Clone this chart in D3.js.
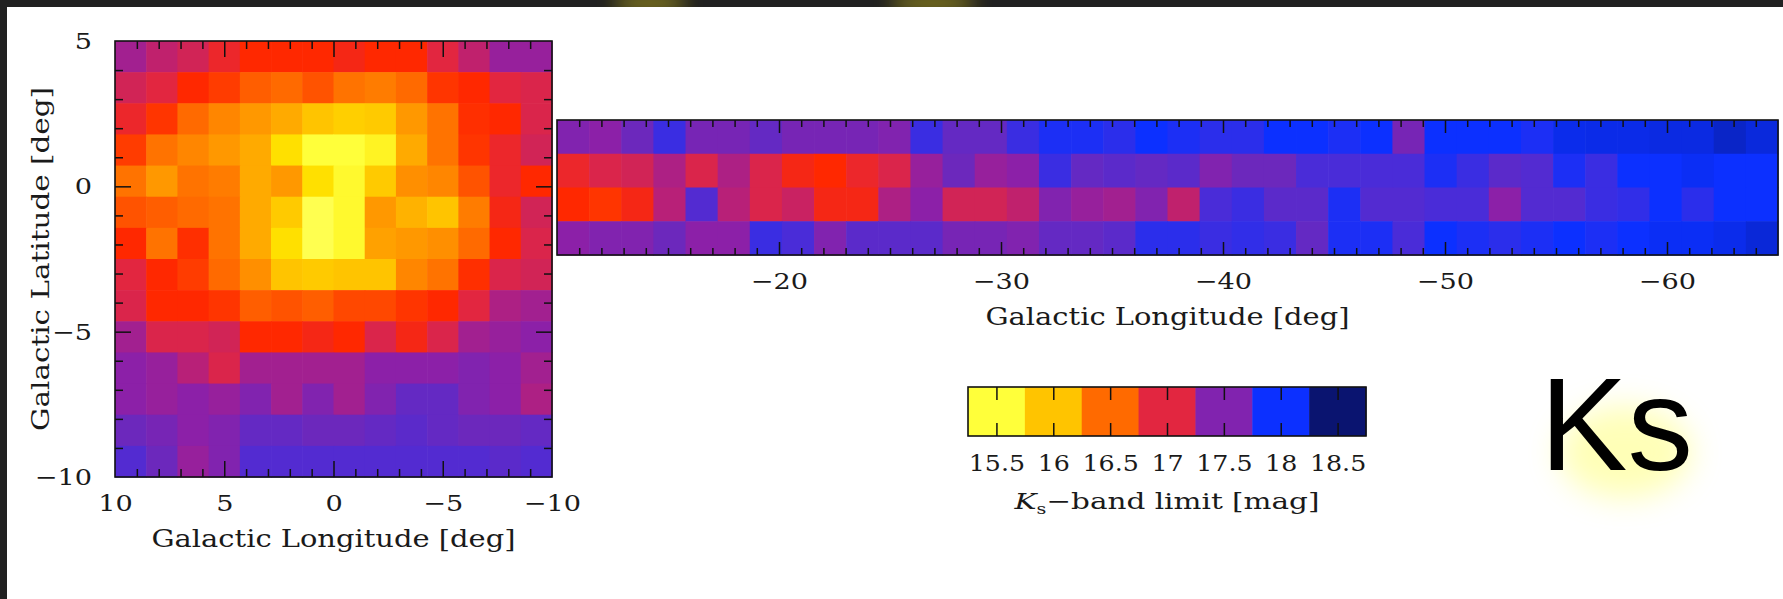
<!DOCTYPE html>
<html>
<head>
<meta charset="utf-8">
<script src="https://cdn.jsdelivr.net/npm/d3@7"></script>
<style>
  html, body { margin: 0; padding: 0; background: #ffffff; overflow: hidden; }
  svg { display: block; }
  .lbl { font-family: "DejaVu Serif", serif; fill: #1a1a1a; }
</style>
</head>
<body>
<svg id="chart" width="1783" height="599"></svg>
<script>
// Ks-band limiting magnitude per tile, bulge field.
// Rows run from b = +5 (top) to b = -10 (bottom); columns from l = +10 to l = -10.
const bulgeKs = [
  [17.35, 17.2, 17.1, 16.95, 16.85, 16.85, 16.85, 16.9, 16.85, 16.85, 17.0, 17.2, 17.4, 17.4],
  [17.1, 17.0, 16.85, 16.7, 16.55, 16.5, 16.6, 16.45, 16.4, 16.5, 16.75, 16.85, 17.0, 17.05],
  [16.95, 16.75, 16.5, 16.35, 16.25, 16.15, 16.0, 15.9, 15.95, 16.25, 16.45, 16.8, 16.85, 17.05],
  [16.7, 16.45, 16.35, 16.25, 16.15, 15.75, 15.5, 15.5, 15.6, 16.15, 16.45, 16.75, 16.95, 17.1],
  [16.45, 16.25, 16.45, 16.4, 16.15, 16.25, 15.75, 15.55, 15.95, 16.3, 16.35, 16.6, 16.95, 16.85],
  [16.6, 16.55, 16.5, 16.45, 16.15, 15.95, 15.45, 15.55, 16.25, 16.1, 16.0, 16.4, 16.9, 17.1],
  [16.85, 16.45, 16.8, 16.45, 16.15, 15.75, 15.45, 15.55, 16.2, 16.25, 16.3, 16.5, 16.85, 17.05],
  [17.0, 16.85, 16.7, 16.5, 16.3, 16.0, 15.95, 16.0, 16.0, 16.35, 16.45, 16.8, 17.05, 17.1],
  [17.05, 16.85, 16.85, 16.75, 16.55, 16.6, 16.55, 16.65, 16.65, 16.75, 16.85, 17.0, 17.3, 17.35],
  [17.35, 17.05, 17.05, 17.1, 16.85, 16.85, 16.9, 16.85, 17.05, 16.9, 17.05, 17.35, 17.4, 17.45],
  [17.45, 17.4, 17.25, 17.05, 17.35, 17.35, 17.35, 17.35, 17.45, 17.45, 17.45, 17.5, 17.45, 17.35],
  [17.45, 17.4, 17.45, 17.4, 17.5, 17.35, 17.5, 17.35, 17.5, 17.65, 17.65, 17.5, 17.45, 17.3],
  [17.6, 17.55, 17.45, 17.5, 17.65, 17.65, 17.6, 17.6, 17.65, 17.7, 17.65, 17.6, 17.6, 17.65],
  [17.75, 17.6, 17.4, 17.5, 17.75, 17.75, 17.75, 17.75, 17.75, 17.75, 17.75, 17.75, 17.7, 17.75]
];

// Ks-band limiting magnitude per tile, disk field.
// Rows run from north (top) to south; columns from l = -10 to l = -65.
const diskKs = [
  [17.5, 17.45, 17.6, 17.85, 17.55, 17.55, 17.65, 17.55, 17.55, 17.55, 17.5, 17.85, 17.65, 17.65, 17.85, 17.95, 17.95, 17.9, 18.0,
   17.95, 17.9, 17.9, 18.0, 18.0, 17.95, 18.0, 17.55, 18.0, 18.0, 18.0, 17.95, 18.1, 18.12, 18.12, 18.15, 18.15, 18.25, 18.18],
  [16.95, 17.05, 17.1, 17.3, 17.05, 17.3, 17.05, 16.9, 16.85, 16.95, 17.05, 17.4, 17.6, 17.4, 17.45, 17.85, 17.65, 17.7, 17.65,
   17.7, 17.5, 17.6, 17.6, 17.8, 17.8, 17.8, 17.8, 17.95, 17.85, 17.7, 17.75, 17.95, 17.85, 18.0, 18.0, 18.05, 18.0, 18.0],
  [16.85, 16.75, 16.9, 17.25, 17.75, 17.25, 17.05, 17.15, 16.9, 16.9, 17.3, 17.45, 17.1, 17.1, 17.2, 17.5, 17.4, 17.35, 17.5,
   17.2, 17.8, 17.85, 17.7, 17.7, 17.95, 17.75, 17.75, 17.8, 17.8, 17.45, 17.75, 17.75, 17.85, 17.88, 18.0, 17.9, 18.0, 18.0],
  [17.45, 17.5, 17.5, 17.6, 17.45, 17.45, 17.85, 17.8, 17.5, 17.7, 17.7, 17.7, 17.55, 17.55, 17.5, 17.65, 17.65, 17.7, 17.9,
   17.9, 17.85, 17.88, 17.85, 17.65, 17.95, 17.95, 17.8, 18.0, 17.95, 17.9, 17.95, 18.0, 17.95, 18.0, 18.05, 18.05, 18.1, 18.2]
];

// Sky coverage of the two fields (degrees)
const bulgeLonRange = [10, -10];
const bulgeLatRange = [5, -10];
const diskLonRange = [-10, -65];
const diskLatRange = [2.3, -2.3];

// Axis labels
const bulgeLonLabels = [10, 5, 0, -5, -10];
const bulgeLatLabels = [5, 0, -5, -10];
const diskLonLabels = [-20, -30, -40, -50, -60];

// Colour bar levels (mag)
const colorbarLevels = [15.5, 16, 16.5, 17, 17.5, 18, 18.5];

// Colour map stops: magnitude -> colour
const cmapStops  = [15.4, 15.5, 15.75, 16.0, 16.25, 16.5, 16.7, 16.85, 17.0, 17.25, 17.45, 17.6, 17.8, 18.0, 18.2, 18.5];
const cmapColors = ["#ffff66", "#ffff3a", "#ffe000", "#ffc400", "#ff9800", "#ff6a00", "#ff3c00", "#ff2800",
                    "#e22640", "#b82078", "#8c20a8", "#6c28bc", "#4a2cd8", "#0c30ff", "#0a28d8", "#0a1470"];

const svg = d3.select("#chart");
const W = 1783, H = 599;

const color = d3.scaleLinear().domain(cmapStops).range(cmapColors)
  .interpolate(d3.interpolateRgb).clamp(true);

const defs = svg.append("defs");
defs.append("filter").attr("id", "glowBlur").attr("x", "-60%").attr("y", "-60%").attr("width", "220%").attr("height", "220%")
  .append("feGaussianBlur").attr("stdDeviation", 15);
defs.append("filter").attr("id", "edgeBlur").attr("x", "-60%").attr("y", "-200%").attr("width", "220%").attr("height", "500%")
  .append("feGaussianBlur").attr("stdDeviation", 9);
defs.append("clipPath").attr("id", "topStrip")
  .append("rect").attr("x", 0).attr("y", 0).attr("width", W).attr("height", 7);

// Page background and dark window edge
svg.append("rect").attr("width", W).attr("height", H).attr("fill", "#ffffff");
svg.append("rect").attr("x", 0).attr("y", 0).attr("width", W).attr("height", 7).attr("fill", "#212121");
svg.append("rect").attr("x", 0).attr("y", 0).attr("width", 7).attr("height", H).attr("fill", "#212121");
const strip = svg.append("g").attr("clip-path", "url(#topStrip)");
[[650, 38], [933, 44]].forEach(([cx, rx]) => {
  strip.append("ellipse").attr("cx", cx).attr("cy", 3).attr("rx", rx).attr("ry", 9)
    .attr("fill", "#a89a1c").attr("opacity", 0.75).attr("filter", "url(#edgeBlur)");
});

// Widen glyphs of a text selection by factor k (PGPLOT-like wide lettering)
function widen(sel, k) {
  sel.each(function () {
    const w = this.getComputedTextLength();
    d3.select(this).attr("textLength", w * k).attr("lengthAdjust", "spacingAndGlyphs");
  });
}

// Draw a tile grid into a panel
function drawGrid(g, data, xs, ys, lonRange, latRange) {
  const nr = data.length, nc = data[0].length;
  const dLon = (lonRange[1] - lonRange[0]) / nc;
  const dLat = (latRange[1] - latRange[0]) / nr;
  const cells = [];
  data.forEach((row, r) => row.forEach((v, c) => cells.push({r, c, v})));
  g.selectAll("rect.cell").data(cells).join("rect")
    .attr("class", "cell")
    .attr("x", d => xs(lonRange[0] + d.c * dLon))
    .attr("y", d => ys(latRange[0] + d.r * dLat))
    .attr("width", d => xs(lonRange[0] + (d.c + 1) * dLon) - xs(lonRange[0] + d.c * dLon) + 0.6)
    .attr("height", d => ys(latRange[0] + (d.r + 1) * dLat) - ys(latRange[0] + d.r * dLat) + 0.6)
    .attr("fill", d => color(d.v));
}

function styleTicks(sel) {
  sel.select(".domain").remove();
  sel.selectAll(".tick line").attr("stroke", "#111").attr("stroke-width", 1.5);
}

function frame(g, xs, ys) {
  const [x0, x1] = xs.range(), [y0, y1] = ys.range();
  g.append("rect").attr("x", x0).attr("y", y0).attr("width", x1 - x0).attr("height", y1 - y0)
    .attr("fill", "none").attr("stroke", "#111").attr("stroke-width", 1.6);
}

// Inward ticks on all four sides
function innerXTicks(g, xs, ys, values, len) {
  const [y0, y1] = ys.range();
  g.append("g").attr("transform", `translate(0,${y1})`)
    .call(d3.axisBottom(xs).tickValues(values).tickSize(-len).tickFormat("")).call(styleTicks);
  g.append("g").attr("transform", `translate(0,${y0})`)
    .call(d3.axisTop(xs).tickValues(values).tickSize(-len).tickFormat("")).call(styleTicks);
}
function innerYTicks(g, xs, ys, values, len) {
  const [x0, x1] = xs.range();
  g.append("g").attr("transform", `translate(${x0},0)`)
    .call(d3.axisLeft(ys).tickValues(values).tickSize(-len).tickFormat("")).call(styleTicks);
  g.append("g").attr("transform", `translate(${x1},0)`)
    .call(d3.axisRight(ys).tickValues(values).tickSize(-len).tickFormat("")).call(styleTicks);
}

function labelAxis(sel, size, k) {
  sel.select(".domain").remove();
  sel.selectAll(".tick line").remove();
  sel.attr("font-family", null).attr("font-size", null);
  sel.selectAll("text").attr("class", "lbl").style("font-size", size + "px").call(widen, k);
}

const fmt = d3.format("d");

// ---------- Bulge panel ----------
const xB = d3.scaleLinear().domain(bulgeLonRange).range([115, 552]);
const yB = d3.scaleLinear().domain(bulgeLatRange).range([41, 477]);
const gB = svg.append("g");
drawGrid(gB, bulgeKs, xB, yB, bulgeLonRange, bulgeLatRange);

const bLonAll = d3.range(9, -10, -1);
innerXTicks(gB, xB, yB, bLonAll.filter(d => d % 5 !== 0), 8);
innerXTicks(gB, xB, yB, bLonAll.filter(d => d % 5 === 0), 16);
const bLatAll = d3.range(4, -10, -1);
innerYTicks(gB, xB, yB, bLatAll.filter(d => d % 5 !== 0), 8);
innerYTicks(gB, xB, yB, bLatAll.filter(d => d % 5 === 0), 16);
frame(gB, xB, yB);

gB.append("g").attr("transform", "translate(0,477)")
  .call(d3.axisBottom(xB).tickValues(bulgeLonLabels).tickSize(0).tickPadding(18).tickFormat(fmt))
  .call(labelAxis, 23, 1.18);
gB.append("g").attr("transform", "translate(115,0)")
  .call(d3.axisLeft(yB).tickValues(bulgeLatLabels).tickSize(0).tickPadding(23).tickFormat(fmt))
  .call(labelAxis, 23, 1.18);

svg.append("text").attr("class", "lbl")
  .attr("x", d3.mean(xB.range())).attr("y", 547).attr("text-anchor", "middle")
  .style("font-size", "24px").attr("textLength", 364).attr("lengthAdjust", "spacingAndGlyphs")
  .text("Galactic Longitude [deg]");
svg.append("text").attr("class", "lbl")
  .attr("transform", `translate(49,${d3.mean(yB.range())}) rotate(-90)`).attr("text-anchor", "middle")
  .style("font-size", "24px").attr("textLength", 344).attr("lengthAdjust", "spacingAndGlyphs")
  .text("Galactic Latitude [deg]");

// ---------- Disk panel ----------
const xD = d3.scaleLinear().domain(diskLonRange).range([557, 1778]);
const yD = d3.scaleLinear().domain(diskLatRange).range([120, 255]);
const gD = svg.append("g");
drawGrid(gD, diskKs, xD, yD, diskLonRange, diskLatRange);

const dLonAll = d3.range(-11, -65, -1);
innerXTicks(gD, xD, yD, dLonAll.filter(d => d % 10 !== 0), 7);
innerXTicks(gD, xD, yD, dLonAll.filter(d => d % 10 === 0), 13);
frame(gD, xD, yD);

gD.append("g").attr("transform", "translate(0,255)")
  .call(d3.axisBottom(xD).tickValues(diskLonLabels).tickSize(0).tickPadding(18).tickFormat(fmt))
  .call(labelAxis, 23, 1.18);

svg.append("text").attr("class", "lbl")
  .attr("x", d3.mean(xD.range())).attr("y", 325).attr("text-anchor", "middle")
  .style("font-size", "24px").attr("textLength", 364).attr("lengthAdjust", "spacingAndGlyphs")
  .text("Galactic Longitude [deg]");

// ---------- Colour bar ----------
const xC = d3.scaleLinear().domain([15.25, 18.75]).range([968, 1366]);
const yC = [387, 436];
const gC = svg.append("g");
gC.selectAll("rect.box").data(colorbarLevels).join("rect")
  .attr("class", "box")
  .attr("x", d => xC(d - 0.25)).attr("y", yC[0])
  .attr("width", d => xC(d + 0.25) - xC(d - 0.25) + 0.5).attr("height", yC[1] - yC[0])
  .attr("fill", d => color(d));
gC.append("g").attr("transform", `translate(0,${yC[1]})`)
  .call(d3.axisBottom(xC).tickValues(colorbarLevels).tickSize(-13).tickFormat("")).call(styleTicks);
gC.append("g").attr("transform", `translate(0,${yC[0]})`)
  .call(d3.axisTop(xC).tickValues(colorbarLevels).tickSize(-13).tickFormat("")).call(styleTicks);
gC.append("rect").attr("x", xC.range()[0]).attr("y", yC[0])
  .attr("width", xC.range()[1] - xC.range()[0]).attr("height", yC[1] - yC[0])
  .attr("fill", "none").attr("stroke", "#111").attr("stroke-width", 1.6);
gC.append("g").attr("transform", `translate(0,${yC[1]})`)
  .call(d3.axisBottom(xC).tickValues(colorbarLevels).tickSize(0).tickPadding(19).tickFormat(d3.format("")))
  .call(labelAxis, 22, 1.15);

const cbTitle = svg.append("text").attr("class", "lbl")
  .attr("x", d3.mean(xC.range())).attr("y", 509).attr("text-anchor", "middle")
  .style("font-size", "23px").attr("textLength", 305).attr("lengthAdjust", "spacingAndGlyphs");
cbTitle.append("tspan").style("font-style", "italic").text("K");
cbTitle.append("tspan").attr("dy", 5).style("font-size", "15px").text("s");
cbTitle.append("tspan").attr("dy", -5).text("\u2212band limit [mag]");

// ---------- Band tag ----------
svg.append("ellipse").attr("cx", 1625).attr("cy", 452).attr("rx", 66).attr("ry", 46)
  .attr("fill", "#ffff88").attr("opacity", 0.6).attr("filter", "url(#glowBlur)");
svg.append("text").attr("x", 1540).attr("y", 470)
  .style("font-family", "'Liberation Sans', Arial, sans-serif").style("font-size", "131px")
  .attr("fill", "#000").text("Ks");
</script>
</body>
</html>
